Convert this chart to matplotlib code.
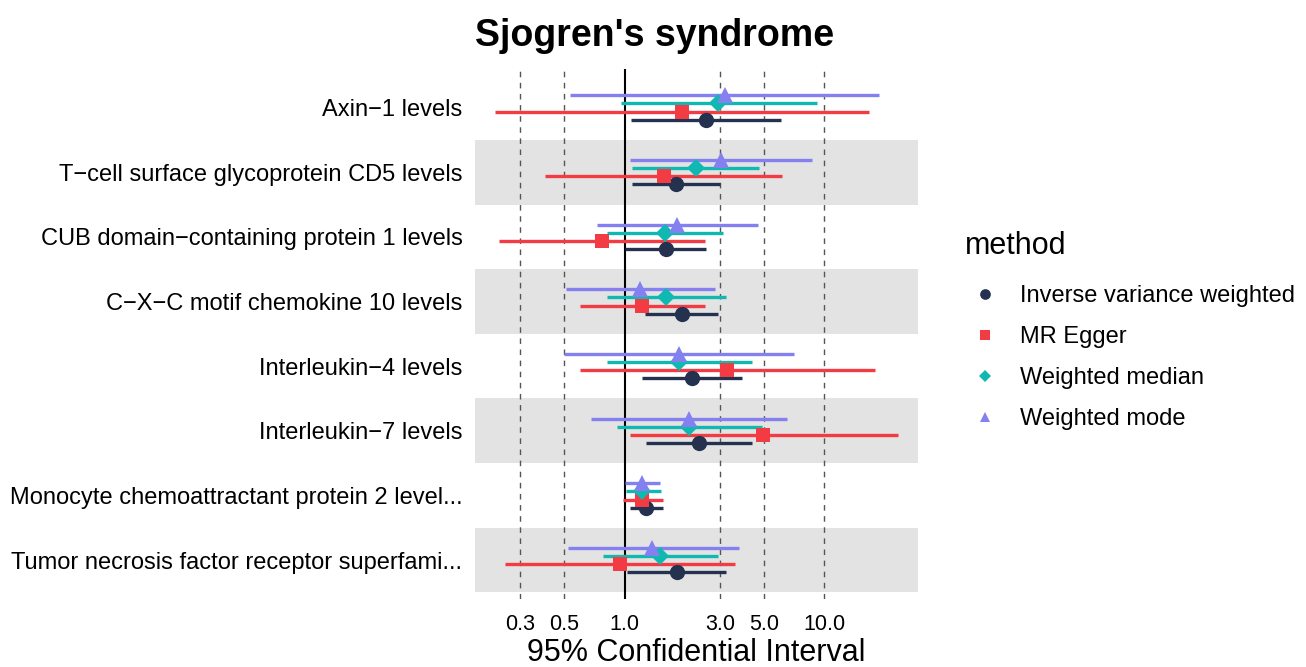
import numpy as np
import matplotlib
matplotlib.use('Agg')
import matplotlib.pyplot as plt
from matplotlib.lines import Line2D

plt.rcParams['font.family'] = ['Liberation Sans', 'DejaVu Sans']

exposures = ['Axin\u22121 levels',
             'T\u2212cell surface glycoprotein CD5 levels',
             'CUB domain\u2212containing protein 1 levels',
             'C\u2212X\u2212C motif chemokine 10 levels',
             'Interleukin\u22124 levels',
             'Interleukin\u22127 levels',
             'Monocyte chemoattractant protein 2 level...',
             'Tumor necrosis factor receptor superfami...']

methods = ['Inverse variance weighted', 'MR Egger', 'Weighted median', 'Weighted mode']

# odds ratio and 95% CI per method, rows follow exposures
ivw_or = [2.57, 1.82, 1.61, 1.93, 2.19, 2.35, 1.28, 1.83]
ivw_lo = [1.08, 1.09, 1.01, 1.26, 1.22, 1.28, 1.06, 1.03]
ivw_hi = [6.08, 3.00, 2.57, 2.94, 3.90, 4.33, 1.55, 3.24]

egger_or = [1.94, 1.57, 0.77, 1.23, 3.28, 4.95, 1.22, 0.95]
egger_lo = [0.225, 0.40, 0.235, 0.60, 0.60, 1.06, 0.98, 0.252]
egger_hi = [16.7, 6.17, 2.52, 2.54, 17.9, 23.4, 1.55, 3.57]

median_or = [2.94, 2.27, 1.60, 1.62, 1.87, 2.10, 1.23, 1.51]
median_lo = [0.955, 1.09, 0.82, 0.82, 0.82, 0.92, 1.015, 0.78]
median_hi = [9.19, 4.70, 3.10, 3.21, 4.33, 4.88, 1.52, 2.93]

mode_or = [3.18, 3.04, 1.84, 1.20, 1.87, 2.10, 1.22, 1.38]
mode_lo = [0.535, 1.07, 0.73, 0.51, 0.50, 0.68, 1.00, 0.52]
mode_hi = [18.8, 8.67, 4.66, 2.84, 7.07, 6.49, 1.50, 3.73]

colors = ['#243250', '#F23B42', '#0FB8B0', '#8580F0']
markers = ['o', 's', 'D', '^']
msizes = [11, 10, 9, 11]
offsets = [-0.1875, -0.0625, 0.0625, 0.1875]

series = [(ivw_or, ivw_lo, ivw_hi), (egger_or, egger_lo, egger_hi),
          (median_or, median_lo, median_hi), (mode_or, mode_lo, mode_hi)]

fig = plt.figure(figsize=(13.06, 6.67), dpi=100)
ax = fig.add_axes([0.3637, 0.102, 0.3393, 0.795])

n = len(exposures)
ypos = np.arange(n)[::-1]  # first exposure on top

for i, y in enumerate(ypos):
    if i % 2 == 1:
        ax.axhspan(y - 0.5, y + 0.5, color='#E3E3E3', lw=0, zorder=0)

ticks = [0.3, 0.5, 1.0, 3.0, 5.0, 10.0]
for t in ticks:
    if t == 1.0:
        ax.axvline(t, color='black', lw=1.5, zorder=1)
    else:
        ax.axvline(t, color='#555555', lw=1.0, ls=(0, (4, 4)), zorder=1)

for k, (est, lo, hi) in enumerate(series):
    yy = ypos + offsets[k]
    ax.hlines(yy, lo, hi, color=colors[k], lw=2.4, zorder=3)
    ax.plot(est, yy, ls='none', marker=markers[k], color=colors[k],
            ms=msizes[k], mew=0, zorder=4)

ax.set_xscale('log')
ax.set_xlim(0.178, 29.6)
ax.set_ylim(-0.6, n - 1 + 0.6)
ax.set_xticks(ticks)
ax.set_xticklabels(['0.3', '0.5', '1.0', '3.0', '5.0', '10.0'])
ax.xaxis.set_minor_locator(matplotlib.ticker.NullLocator())
ax.set_yticks(ypos)
ax.set_yticklabels(exposures)
ax.tick_params(axis='y', length=0, labelsize=17, colors='black', pad=9)
ax.tick_params(axis='x', length=0, labelsize=15.5, colors='black', pad=11)
for s in ax.spines.values():
    s.set_visible(False)

ax.set_xlabel('95% Confidential Interval', fontsize=22, labelpad=2)
ax.set_title("Sjogren's syndrome", fontsize=27, fontweight='bold', pad=16, loc='left')

# legend: title drawn separately so its gap to the keys matches
handles = [Line2D([0], [0], ls='none', marker=markers[k], color=colors[k],
                  ms=msizes[k] * 0.7, mew=0) for k in range(4)]
leg = fig.legend(handles, methods, loc='center left', bbox_to_anchor=(0.7197, 0.464),
                 frameon=False, fontsize=17, labelspacing=0.8, handletextpad=0.5)
fig.text(0.739, 0.631, 'method', fontsize=22, ha='left', va='center')

fig.savefig('out.png', dpi=100, facecolor='white')
